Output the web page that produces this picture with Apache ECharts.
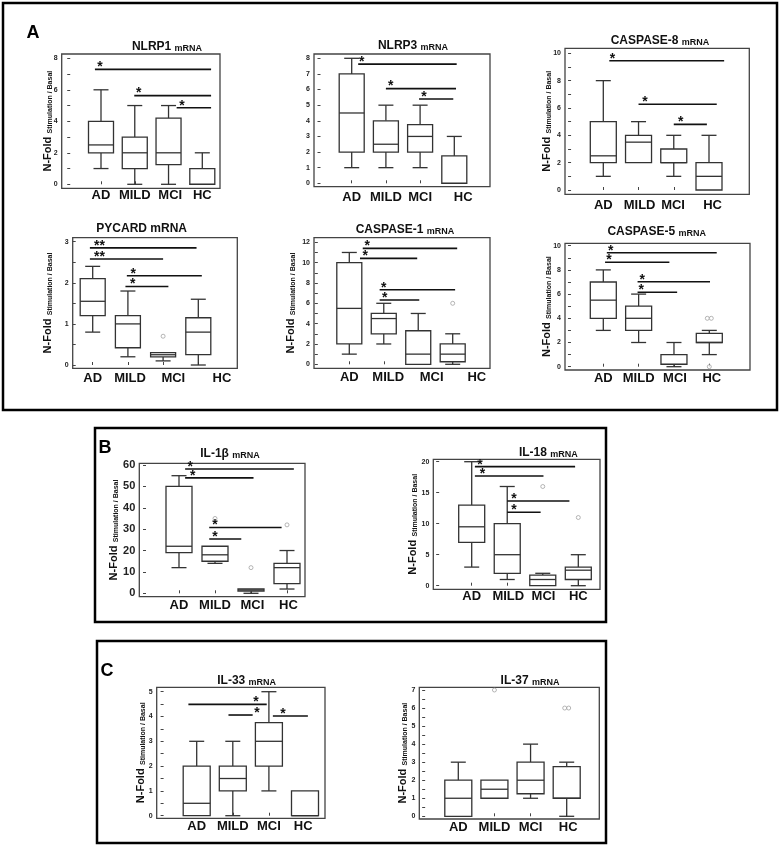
<!DOCTYPE html>
<html><head><meta charset="utf-8">
<script src="https://cdn.jsdelivr.net/npm/echarts@6/dist/echarts.min.js"></script>
<style>html,body{margin:0;padding:0;background:#fff}#c{width:780px;height:847px}</style>
</head><body><div id="c"></div>
<script>
// ---------- DATA ----------
const categories = ['AD', 'MILD', 'MCI', 'HC'];
// box statistics per group: [min, Q1, median, Q3, max]
const nlrp1Box = [[1,2,2.5,4,6],[0,1,2,3,5],[0,1.25,2,4.2,5],[0,0,0,1,2]];
const nlrp3Box = [[1,2,4.5,7,8],[1,2,2.5,4,5],[1,2,3,3.75,5],[0,0,0,1.75,3]];
const casp8Box = [[1,2,2.5,5,8],[2,2,3.5,4,5],[1,2,2,3,4],[0,0,1,2,4]];
const pycardBox = [[0.8,1.2,1.55,2.1,2.4],[0.2,0.42,1.0,1.2,1.8],[0.1,0.2,0.25,0.3,0.3],[0,0.25,0.8,1.15,1.6]];
const casp1Box = [[1,2,5.5,10,11],[2,3,4.5,5,6],[0,0,1,3.3,5],[0,0.25,1,2,3]];
const casp5Box = [[3,4,5.5,7,8],[2,3,4,5,6],[0,0.2,0.2,1,2],[1,2,2,2.75,3]];
const il1bBox = [[12,19,22,50,55],[14,15,18,22,22],[0,1,1.5,2,2],[2,4.5,12,14,20]];
const il18Box = [[3,7,9.5,13,20],[1,2,5,10,16],[0,0,1,1.7,2],[0,1,2.5,3,5]];
const il33Box = [[0,0,0.5,2,3],[0,1,1.5,2,3],[1,2,3,3.75,5],[0,0,0,1,1]];
const il37Box = [[0,0,1,2,3],[1,1,1.5,2,2],[1,1.25,2,3,4],[0,1,1,2.75,3]];

// outliers: [group position, value]
const nlrp1Out = [], nlrp3Out = [], casp8Out = [];
const pycardOut = [[3,0.7]];
const casp1Out = [[4,6]];
const casp5Out = [[4,4],[4,4],[4,0]];
const il1bOut = [[2,35],[3,12],[4,32]];
const il18Out = [[3,16],[4,11]];
const il33Out = [];
const il37Out = [[2,7],[4,6],[4,6]];

// significance bars: [from, to, level, star position, mark]
const nlrp1Sig = [[0.82,4.26,7.3,0.97,'*'],[1.985,4.26,5.63,2.12,'*'],[3.24,4.26,4.86,3.40,'*']];
const nlrp3Sig = [[1.19,4.07,7.63,1.29,'*'],[2.0,4.05,6.06,2.14,'*'],[2.97,3.97,5.4,3.11,'*']];
const casp8Sig = [[1.17,4.43,9.46,1.26,'*'],[2.0,4.22,6.27,2.18,'*'],[3.0,3.94,4.8,3.2,'*']];
const pycardSig = [[0.92,3.95,2.85,1.19,'**'],[0.92,3.0,2.58,1.19,'**'],[1.97,4.1,2.17,2.15,'*'],[1.93,3.15,1.91,2.14,'*']];
const casp1Sig = [[1.39,4.13,11.4,1.52,'*'],[1.31,2.97,10.42,1.46,'*'],[1.88,4.07,7.34,2.0,'*'],[1.88,3.03,6.32,2.03,'*']];
const casp5Sig = [[1.1,4.21,9.42,1.21,'*'],[1.05,2.87,8.63,1.16,'*'],[1.97,4.02,7.02,2.1,'*'],[1.97,3.09,6.15,2.07,'*']];
const il1bSig = [[1.17,4.19,58.1,1.31,'*'],[1.17,3.07,54,1.38,'*'],[1.84,3.85,30.8,2.0,'*'],[1.84,2.73,25.4,2.0,'*']];
const il18Sig = [[1.09,3.91,19.2,1.23,'*'],[1.09,3.02,17.7,1.3,'*'],[2.0,3.75,13.66,2.19,'*'],[2.0,2.94,11.84,2.19,'*']];
const il33Sig = [[0.77,2.94,4.49,2.64,'*'],[1.88,2.55,4.06,2.67,'*'],[3.11,4.08,4.02,3.39,'*']];
const il37Sig = [];

// y tick labels and tick marks
const nlrp1YLabels = [0,2,4,6,8], nlrp1YTicks = [0,1,2,3,4,5,6,7,8];
const nlrp3YLabels = [0,1,2,3,4,5,6,7,8], nlrp3YTicks = [0,1,2,3,4,5,6,7,8];
const casp8YLabels = [0,2,4,6,8,10], casp8YTicks = [0,1,2,3,4,5,6,7,8,9,10];
const pycardYLabels = [0,1,2,3], pycardYTicks = [0,0.5,1,1.5,2,2.5,3];
const casp1YLabels = [0,2,4,6,8,10,12], casp1YTicks = [0,1,2,3,4,5,6,7,8,9,10,11,12];
const casp5YLabels = [0,2,4,6,8,10], casp5YTicks = [0,1,2,3,4,5,6,7,8,9,10];
const il1bYLabels = [0,10,20,30,40,50,60], il1bYTicks = [0,10,20,30,40,50,60];
const il18YLabels = [0,5,10,15,20], il18YTicks = [0,5,10,15,20];
const il33YLabels = [0,1,2,3,4,5], il33YTicks = [0,0.5,1,1.5,2,2.5,3,3.5,4,4.5,5];
const il37YLabels = [0,1,2,3,4,5,6,7], il37YTicks = [0,0.5,1,1.5,2,2.5,3,3.5,4,4.5,5,5.5,6,6.5,7];

// x category label positions (group units)
const nlrp1XLabels = [1,2,3.05,4];
const nlrp3XLabels = [1,2,3,4.26];
const casp8XLabels = [1,2.03,2.98,4.1];
const pycardXLabels = [1,2.06,3.29,4.67];
const casp1XLabels = [1,2.13,3.39,4.7];
const casp5XLabels = [1,2,3.03,4.07];
const il1bXLabels = [1,2,3.04,4.04];
const il18XLabels = [1,2.03,3.02,4];
const il33XLabels = [1,2,3,3.95];
const il37XLabels = [1,2,3,4.04];

const titles = ['NLRP1','NLRP3','CASPASE-8','PYCARD','CASPASE-1','CASPASE-5','IL-1β','IL-18','IL-33','IL-37'];
const yNameMain = 'N-Fold', yNameSub = 'Stimulation / Basal';
const panelLetters = ['A','B','C'];

// ---------- LAYOUT ----------
const FONT = '"Liberation Sans", Arial, Helvetica, sans-serif';
const CAP = 15;
const panels = [
 {box:nlrp1Box, out:nlrp1Out, sig:nlrp1Sig, yLab:nlrp1YLabels, yTick:nlrp1YTicks, xLab:nlrp1XLabels,
  frame:[61.7,54,220,188.3], cx:[101,202.3], yRef:[0,184.3,8,58.3], tpos:[167,46], nameX:47, boxW:25, xm:1, yFont:7, smallM:true},
 {box:nlrp3Box, out:nlrp3Out, sig:nlrp3Sig, yLab:nlrp3YLabels, yTick:nlrp3YTicks, xLab:nlrp3XLabels,
  frame:[314,54,490,186.7], cx:[351.7,454.3], yRef:[0,183.3,8,58.3], tpos:[413,45], nameX:null, boxW:25, xm:4, yFont:7, smallM:true},
 {box:casp8Box, out:casp8Out, sig:casp8Sig, yLab:casp8YLabels, yTick:casp8YTicks, xLab:casp8XLabels,
  frame:[565,48.3,749.3,194.3], cx:[603.3,709], yRef:[0,190,10,53.3], tpos:[660,40], nameX:546, boxW:26, xm:5, yFont:7, smallM:true},
 {box:pycardBox, out:pycardOut, sig:pycardSig, yLab:pycardYLabels, yTick:pycardYTicks, xLab:pycardXLabels,
  frame:[72.7,237.7,237.3,368.3], cx:[92.7,198.3], yRef:[0,365,3,241.7], tpos:[141.7,228], nameX:47, boxW:25, xm:4, yFont:7, smallM:false},
 {box:casp1Box, out:casp1Out, sig:casp1Sig, yLab:casp1YLabels, yTick:casp1YTicks, xLab:casp1XLabels,
  frame:[314,237.7,490,368.3], cx:[349.3,452.7], yRef:[0,364.3,12,242.3], tpos:[405,229], nameX:290, boxW:25, xm:3, yFont:7, smallM:true},
 {box:casp5Box, out:casp5Out, sig:casp5Sig, yLab:casp5YLabels, yTick:casp5YTicks, xLab:casp5XLabels,
  frame:[565,243.3,750,370], cx:[603.3,709.3], yRef:[0,366.7,10,245.7], tpos:[656.7,231], nameX:546, boxW:26, xm:2, yFont:7, smallM:true},
 {box:il1bBox, out:il1bOut, sig:il1bSig, yLab:il1bYLabels, yTick:il1bYTicks, xLab:il1bXLabels,
  frame:[139.3,463.3,305,596.7], cx:[179,287], yRef:[0,593.3,60,465], tpos:[230,453], nameX:113, boxW:26, xm:2, yFont:11, smallM:true},
 {box:il18Box, out:il18Out, sig:il18Sig, yLab:il18YLabels, yTick:il18YTicks, xLab:il18XLabels,
  frame:[433.3,459.3,600,589.3], cx:[471.7,578.3], yRef:[0,585.7,20,461.7], tpos:[548.3,451.7], nameX:411.7, boxW:26, xm:1, yFont:7, smallM:true},
 {box:il33Box, out:il33Out, sig:il33Sig, yLab:il33YLabels, yTick:il33YTicks, xLab:il33XLabels,
  frame:[156.7,687.3,325,818.3], cx:[196.7,305], yRef:[0,815.7,5,691.7], tpos:[246.7,680], nameX:140, boxW:27, xm:2, yFont:7, smallM:true},
 {box:il37Box, out:il37Out, sig:il37Sig, yLab:il37YLabels, yTick:il37YTicks, xLab:il37XLabels,
  frame:[419.3,687.3,599.3,819], cx:[458.3,566.7], yRef:[0,816.3,7,690], tpos:[530,680], nameX:401.7, boxW:27, xm:2, yFont:7, smallM:true}
];
const outerFrames = [[3,3,777,410],[95,428,606,622],[97,641,606,843]];
const letterPos = [[33,33],[105,448],[107,671]];

// ---------- RENDER ----------
function seg(x1,y1,x2,y2,w,c){return {type:'line',shape:{x1,y1,x2,y2},style:{stroke:c||'#333',lineWidth:w||1.3}};}
function boxRender(bw){
  return function(params, api){
    const x = api.value(0);
    const v = [1,2,3,4,5].map(d=>api.value(d));
    const c = v.map(val=>api.coord([x,val]));
    const cx = c[0][0], hw = bw/2, cw = CAP/2;
    const ch = [];
    if (v[4] > v[3]) { ch.push(seg(cx,c[3][1],cx,c[4][1])); ch.push(seg(cx-cw,c[4][1],cx+cw,c[4][1])); }
    if (v[0] < v[1]) { ch.push(seg(cx,c[1][1],cx,c[0][1])); ch.push(seg(cx-cw,c[0][1],cx+cw,c[0][1])); }
    ch.push({type:'rect',shape:{x:cx-hw,y:c[3][1],width:bw,height:c[1][1]-c[3][1]},style:{fill:'#fff',stroke:'#333',lineWidth:1.3}});
    ch.push(seg(cx-hw,c[2][1],cx+hw,c[2][1]));
    return {type:'group',children:ch};
  };
}
function sigRender(arr){
  return function(params, api){
    const s = arr[params.dataIndex];
    const p1 = api.coord([api.value(0), api.value(2)]);
    const p2 = api.coord([api.value(1), api.value(2)]);
    const ps = api.coord([api.value(3), api.value(2)]);
    return {type:'group',children:[
      seg(p1[0],p1[1],p2[0],p2[1],1.6,'#111'),
      {type:'text',x:ps[0],y:p1[1]+5,style:{text:s[4],font:'bold 14px '+FONT,fill:'#111',align:'center',verticalAlign:'bottom'}}
    ]};
  };
}

const grid=[], xAxis=[], yAxis=[], series=[], graphic=[];
panels.forEach((p,i)=>{
  const [l,t,r,b] = p.frame;
  const sp = (p.cx[1]-p.cx[0])/3;
  const xmin = 1-(p.cx[0]-l)/sp, xmax = 4+(r-p.cx[1])/sp;
  const k = (p.yRef[1]-p.yRef[3])/(p.yRef[2]-p.yRef[0]);
  const ymin = p.yRef[0]-(b-p.yRef[1])/k, ymax = p.yRef[0]+(p.yRef[1]-t)/k;
  grid.push({left:l,top:t,width:r-l,height:b-t,show:true,borderColor:'#444',borderWidth:1.3,backgroundColor:'transparent',containLabel:false,outerBoundsMode:'none'});
  xAxis.push({gridIndex:i,type:'value',min:xmin,max:xmax,axisLine:{show:false},splitLine:{show:false},
    axisTick:{show:true,inside:true,length:3,customValues:[1,2,3,4],lineStyle:{color:'#444',width:1}},
    axisLabel:{customValues:p.xLab,formatter:(val)=>{const j=p.xLab.indexOf(val);return j>=0?categories[j]:'';},
      fontSize:13,fontWeight:'bold',fontFamily:FONT,color:'#111',margin:p.xm}});
  yAxis.push({gridIndex:i,type:'value',min:ymin,max:ymax,axisLine:{show:false},splitLine:{show:false},
    axisTick:{show:true,inside:true,length:3,customValues:p.yTick,lineStyle:{color:'#444',width:1}},
    axisLabel:{customValues:p.yLab,fontSize:p.yFont,fontWeight:'bold',fontFamily:FONT,color:'#222',margin:4}});
  series.push({type:'custom',xAxisIndex:i,yAxisIndex:i,silent:true,z:2,renderItem:boxRender(p.boxW),
    data:p.box.map((s,j)=>[j+1].concat(s)),encode:{x:0,y:[1,2,3,4,5]}});
  if (p.out.length){
    const seen = {};
    const outData = p.out.map(o=>{
      const key=o[0]+'_'+o[1];
      const n=p.out.filter(q=>q[0]===o[0]&&q[1]===o[1]).length;
      const kIdx=seen[key]=(seen[key]===undefined?0:seen[key]+1);
      return {value:o,symbolOffset:[(kIdx-(n-1)/2)*4,0]};
    });
    series.push({type:'scatter',xAxisIndex:i,yAxisIndex:i,silent:true,z:3,symbol:'circle',symbolSize:4,
      itemStyle:{color:'#fff',borderColor:'#999',borderWidth:0.9},data:outData});
  }
  if (p.sig.length){
    series.push({type:'custom',xAxisIndex:i,yAxisIndex:i,silent:true,z:4,renderItem:sigRender(p.sig),
      data:p.sig.map(s=>[s[0],s[1],s[2],s[3]]),encode:{x:[0,1,3],y:2}});
  }
  const tRich = {a:{fontSize:12,fontWeight:'bold',fontFamily:FONT,fill:'#111',verticalAlign:'bottom',lineHeight:14},
                 b:{fontSize:p.smallM?9:12,fontWeight:'bold',fontFamily:FONT,fill:'#111',verticalAlign:'bottom',lineHeight:14}};
  graphic.push({type:'text',x:p.tpos[0],y:p.tpos[1],silent:true,
    style:{text:'{a|'+titles[i]+'} {b|mRNA}',rich:tRich,align:'center',verticalAlign:'middle'}});
  if (p.nameX!==null){
    graphic.push({type:'text',x:p.nameX,y:(t+b)/2,rotation:Math.PI/2,silent:true,
      style:{text:'{a|'+yNameMain+'} {b|'+yNameSub+'}',align:'center',verticalAlign:'middle',
        rich:{a:{fontSize:11,fontWeight:'bold',fontFamily:FONT,fill:'#111',verticalAlign:'bottom',lineHeight:13},
              b:{fontSize:7,fontWeight:'bold',fontFamily:FONT,fill:'#111',verticalAlign:'bottom',lineHeight:13}}}});
  }
});
outerFrames.forEach((f,i)=>{
  graphic.push({type:'rect',silent:true,shape:{x:f[0],y:f[1],width:f[2]-f[0],height:f[3]-f[1]},style:{fill:null,stroke:'#000',lineWidth:2.5}});
  graphic.push({type:'text',silent:true,x:letterPos[i][0],y:letterPos[i][1],
    style:{text:panelLetters[i],font:'bold 18px '+FONT,fill:'#000',align:'center',verticalAlign:'middle'}});
});

const chart = echarts.init(document.getElementById('c'), null, {renderer:'canvas', width:780, height:847});
chart.setOption({animation:false, backgroundColor:'#fff', grid, xAxis, yAxis, series, graphic});
</script></body></html>
